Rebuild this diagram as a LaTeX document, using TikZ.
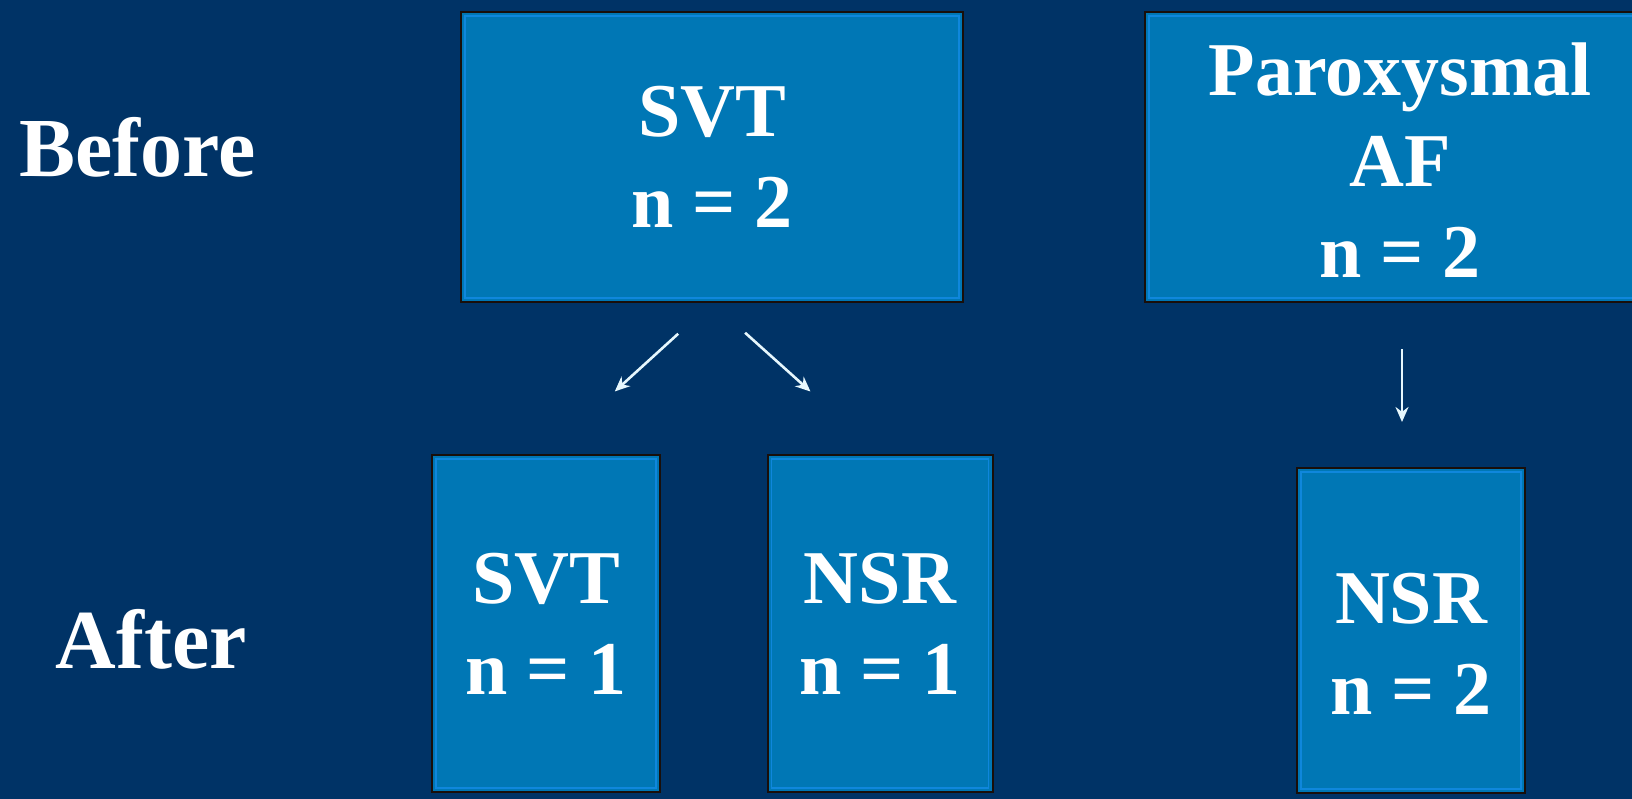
\documentclass[tikz,border=0pt]{standalone}
\usepackage{fontspec}
\setmainfont{Liberation Serif}
\usetikzlibrary{arrows.meta}
\definecolor{bgnavy}{RGB}{0,51,102}
\definecolor{boxblue}{RGB}{0,119,181}
\definecolor{boxedge}{RGB}{25,15,10}
\definecolor{innerblue}{RGB}{15,135,220}
\tikzset{
  box/.style={fill=boxblue, draw=boxedge, line width=2pt, inner sep=0pt,
    align=center, text=white, font=\fontsize{76}{91}\selectfont\bfseries,
    path picture={\draw[innerblue, line width=1.8pt]
      ([shift={(4pt,-4pt)}]path picture bounding box.north west) rectangle
      ([shift={(-4pt,4pt)}]path picture bounding box.south east);}},
  side/.style={text=white, font=\fontsize{84}{96}\selectfont\bfseries, inner sep=0pt, anchor=base},
  arr/.style={draw=white!90!cyan, line width=2.6pt, -{Stealth[length=15pt,width=13pt]}}
}
\begin{document}
\begin{tikzpicture}[x=1pt,y=-1pt]
\fill[bgnavy] (0,0) rectangle (1632,799);
\useasboundingbox (0,0) rectangle (1632,799);

\node[side] (before) at (137.5,177) {Before};
\node[side] (after) at (151,668) {After};

\node[box, minimum width=502pt, minimum height=290pt] (svt) at (712,157) {SVT\\n = 2};
\node[box, minimum width=510pt, minimum height=290pt] (para) at (1400,157) {\rule{0pt}{60pt}Paroxysmal\\AF\\n = 2};
\node[box, minimum width=228pt, minimum height=337pt] (svt1) at (546,623.5) {SVT\\n = 1};
\node[box, minimum width=225pt, minimum height=337pt] (nsr1) at (880,623.5) {NSR\\n = 1};
\node[box, minimum width=228pt, minimum height=325pt] (nsr2) at (1411,630.5) {\rule{0pt}{76pt}NSR\\n = 2};

\draw[arr, shorten <=45.7pt, shorten >=93pt] (svt.south) -- (svt1.north);
\draw[arr, shorten <=44.5pt, shorten >=93.5pt] (svt.south) -- (nsr1.north);
\coordinate (a3) at (1402,0);
\draw[arr, shorten <=46pt, shorten >=45pt] (a3 |- para.south) -- (a3 |- nsr2.north);
\end{tikzpicture}
\end{document}
